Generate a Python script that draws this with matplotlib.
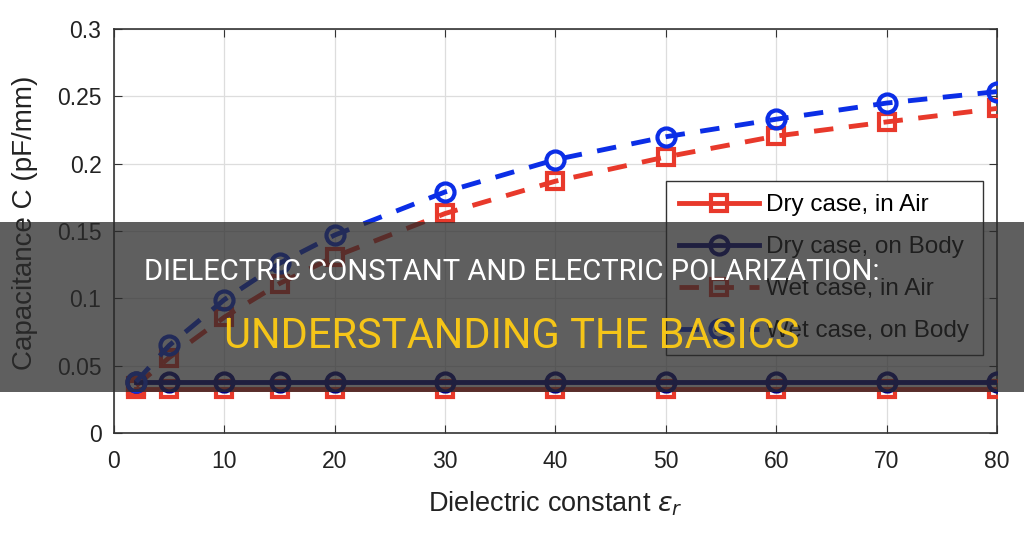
import matplotlib
matplotlib.use("Agg")
import matplotlib.pyplot as plt
from matplotlib.patches import Rectangle

# data
eps_r = [2, 5, 10, 15, 20, 30, 40, 50, 60, 70, 80]
dry_air = [0.033] * 11
dry_body = [0.038] * 11
wet_air = [0.035, 0.056, 0.086, 0.111, 0.131, 0.163, 0.187, 0.205, 0.2205, 0.231, 0.241]
wet_body = [0.038, 0.065, 0.099, 0.126, 0.147, 0.179, 0.203, 0.220, 0.233, 0.245, 0.2535]

xticks = [0, 10, 20, 30, 40, 50, 60, 70, 80]
yticks = [0, 0.05, 0.1, 0.15, 0.2, 0.25, 0.3]
ytick_labels = ["0", "0.05", "0.1", "0.15", "0.2", "0.25", "0.3"]

title_1 = "DIELECTRIC CONSTANT AND ELECTRIC POLARIZATION:"
title_2 = "UNDERSTANDING THE BASICS"

red = "#e8392b"
navy = "#000080"
blue = "#0b2ee6"

plt.rcParams["font.family"] = ["Liberation Sans", "DejaVu Sans"]

fig = plt.figure(figsize=(10.24, 5.33), dpi=100)
ax = fig.add_axes([0.1113, 0.1876, 0.8623, 0.758])

lw = 3.5
ms = 13
mew = 3
dash = (0, (4, 3.2))
ax.plot(eps_r, dry_air, color=red, lw=lw, marker="s", ms=ms - 1, mew=mew, mfc="none",
        label="Dry case, in Air", zorder=3)
ax.plot(eps_r, dry_body, color=navy, lw=lw, marker="o", ms=ms, mew=mew, mfc="none",
        label="Dry case, on Body", zorder=4)
ax.plot(eps_r, wet_air, color=red, lw=lw, ls=dash, marker="s", ms=ms - 1, mew=mew,
        mfc="none", label="Wet case, in Air", zorder=3)
ax.plot(eps_r, wet_body, color=blue, lw=lw, ls=dash, marker="o", ms=ms, mew=mew,
        mfc="none", label="Wet case, on Body", zorder=4)

ax.set_xlim(0, 80)
ax.set_ylim(0, 0.3)
ax.set_xticks(xticks)
ax.set_yticks(yticks)
ax.set_yticklabels(ytick_labels)
ax.tick_params(direction="in", top=True, right=True, labelsize=16.5, length=6,
               color="#333333", labelcolor="#222222")
ax.tick_params(axis="x", pad=12)
ax.tick_params(axis="y", pad=9)
ax.grid(True, color="#dddddd", lw=0.9)
ax.set_axisbelow(True)
for s in ax.spines.values():
    s.set_color("#333333")
    s.set_linewidth(1.2)

ax.set_xlabel(r"Dielectric constant $\epsilon_r$", fontsize=19.5, color="#222222", labelpad=12)
ax.set_ylabel("Capacitance C (pF/mm)", fontsize=20, color="#222222")
ax.yaxis.set_label_coords(-0.086, 0.52)

leg = ax.legend(loc="upper right", bbox_to_anchor=(0.984, 0.624), fontsize=17.5,
                handlelength=3.3, handletextpad=0.3, borderpad=0.55, labelspacing=0.82,
                borderaxespad=0, fancybox=False, edgecolor="#333333", framealpha=1)
leg.get_frame().set_linewidth(1.0)

# dark title banner over the chart
fig.patches.append(Rectangle((0, 1 - 392 / 533), 1, 170 / 533, transform=fig.transFigure,
                             facecolor="#2a2a2a", alpha=0.75, zorder=10))
banner_font = ["Liberation Sans Narrow", "Roboto"]
fig.text(0.5, 1 - 272 / 533, title_1, color="white", fontsize=21, family=banner_font,
         ha="center", va="center", zorder=11)
fig.text(0.5, 1 - 336 / 533, title_2, color="#f5c518", fontsize=30, family=banner_font,
         ha="center", va="center", zorder=11)

fig.savefig("out.png", dpi=100)
